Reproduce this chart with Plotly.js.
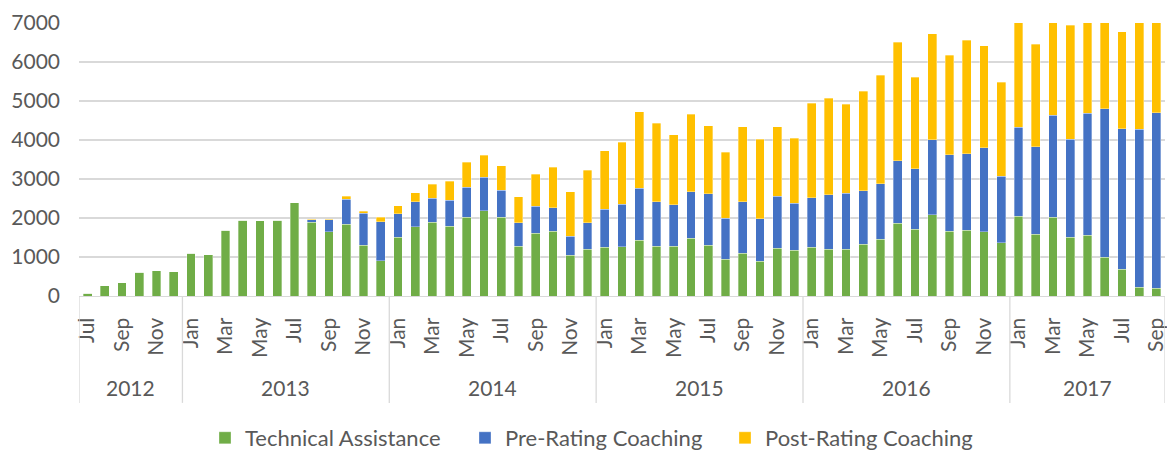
<!DOCTYPE html>
<html>
<head>
<meta charset="utf-8">
<script src="https://cdn.plot.ly/plotly-3.0.1.min.js"></script>
<style>html,body{margin:0;padding:0;background:#fff;}#chart{width:1167px;height:451px;}</style>
</head>
<body>
<div id="chart"></div>
<script>
// Years and the months shown for each year
const years = ['2012', '2013', '2014', '2015', '2016', '2017'];
const monthsByYear = [
  ['Jul','Aug','Sep','Oct','Nov','Dec'],
  ['Jan','Feb','Mar','Apr','May','Jun','Jul','Aug','Sep','Oct','Nov','Dec'],
  ['Jan','Feb','Mar','Apr','May','Jun','Jul','Aug','Sep','Oct','Nov','Dec'],
  ['Jan','Feb','Mar','Apr','May','Jun','Jul','Aug','Sep','Oct','Nov','Dec'],
  ['Jan','Feb','Mar','Apr','May','Jun','Jul','Aug','Sep','Oct','Nov','Dec'],
  ['Jan','Feb','Mar','Apr','May','Jun','Jul','Aug','Sep']
];

// Series values (Jul 2012 .. Sep 2017)
const technicalAssistance = [
  70, 265, 345, 615, 650, 625,
  1100, 1060, 1680, 1940, 1930, 1940, 2385, 1890, 1650, 1845, 1300, 905,
  1510, 1770, 1885, 1795, 2025, 2185, 2025, 1280, 1615, 1665, 1050, 1205,
  1255, 1265, 1435, 1280, 1280, 1475, 1305, 940, 1100, 890, 1220, 1175,
  1255, 1195, 1205, 1325, 1460, 1870, 1715, 2085, 1665, 1680, 1650, 1365,
  2040, 1580, 2015, 1505, 1555, 990, 690, 230, 205
];
const preRatingCoaching = [
  0, 0, 0, 0, 0, 0,
  0, 0, 0, 0, 0, 0, 0, 60, 300, 640, 825, 1000,
  600, 645, 625, 665, 765, 865, 690, 600, 690, 600, 480, 675,
  975, 1085, 1330, 1135, 1060, 1200, 1315, 1050, 1315, 1085, 1335, 1205,
  1265, 1400, 1425, 1380, 1420, 1595, 1545, 1920, 1955, 1965, 2150, 1700,
  2290, 2245, 2620, 2515, 3135, 3810, 3605, 4040, 4490
];
const postRatingCoaching = [
  0, 0, 0, 0, 0, 0,
  0, 0, 0, 0, 0, 0, 0, 15, 15, 70, 45, 120,
  205, 230, 360, 485, 645, 560, 625, 665, 820, 1040, 1145, 1340,
  1500, 1595, 1965, 2010, 1795, 1980, 1750, 1700, 1925, 2040, 1785, 1660,
  2425, 2480, 2290, 2545, 2775, 3040, 2350, 2725, 2555, 2915, 2615, 2415,
  3070, 2630, 2865, 2925, 2610, 2500, 2485, 3130, 2905
];

// Build categories from the arrays above
const categories = [];
const monthOfCat = [];
const yearStart = [];
years.forEach((y, yi) => {
  yearStart.push(categories.length);
  monthsByYear[yi].forEach(m => { categories.push(m + ' ' + y); monthOfCat.push(m); });
});
yearStart.push(categories.length);

const tickVals = categories.filter((c, i) => i % 2 === 0);
const tickText = monthOfCat.filter((c, i) => i % 2 === 0);

const textColor = '#595959';
const fontFam = 'Lato, "Open Sans", sans-serif';
const lineStyle = {width: 0.6, color: 'rgba(255,255,255,0.55)'};

const traces = [
  {type: 'bar', name: 'Technical Assistance', x: categories, y: technicalAssistance,
   marker: {color: '#70ad47', line: lineStyle}},
  {type: 'bar', name: 'Pre-Rating Coaching', x: categories, y: preRatingCoaching,
   marker: {color: '#4472c4', line: lineStyle}},
  {type: 'bar', name: 'Post-Rating Coaching', x: categories, y: postRatingCoaching,
   marker: {color: '#ffc000', line: lineStyle}}
];

const plotH = 451 - 22.7 - 155;
const shapes = yearStart.map(i => ({
  type: 'line', xref: 'x', yref: 'paper', x0: i - 0.5, x1: i - 0.5,
  y0: 0, y1: -(403 - 296) / plotH, line: {color: '#d9d9d9', width: 1.3}
}));
const annotations = years.map((y, yi) => ({
  xref: 'x', yref: 'paper', x: (yearStart[yi] + yearStart[yi + 1] - 1) / 2,
  y: -(388 - 296) / plotH, yanchor: 'middle', xanchor: 'center', showarrow: false,
  text: y, font: {family: fontFam, size: 21, color: textColor}
}));

const layout = {
  width: 1167, height: 451,
  margin: {l: 79.3, r: 2, t: 22.7, b: 155},
  paper_bgcolor: '#ffffff', plot_bgcolor: '#ffffff',
  barmode: 'stack', bargap: 0.49,
  font: {family: fontFam, color: textColor, size: 21},
  showlegend: true,
  legend: {orientation: 'h', xref: 'container', x: 205 / 1167, xanchor: 'left',
           yref: 'container', y: (451 - 438) / 451, yanchor: 'middle',
           entrywidth: 215, entrywidthmode: 'pixels',
           font: {family: fontFam, size: 22, color: textColor},
           traceorder: 'normal', itemclick: false},
  xaxis: {type: 'category', categoryorder: 'array', categoryarray: categories,
          tickmode: 'array', tickvals: tickVals, ticktext: tickText,
          tickangle: -90, ticks: '', ticklabelstandoff: 12,
          tickfont: {family: fontFam, size: 21, color: textColor},
          showline: true, linecolor: '#d9d9d9', linewidth: 1.3,
          showgrid: false, zeroline: false, range: [-0.5, categories.length - 0.5]},
  yaxis: {range: [0, 7000], dtick: 1000, tick0: 0, showgrid: true,
          gridcolor: '#d9d9d9', gridwidth: 1.3, zeroline: false, showline: false,
          ticks: '', ticklabelstandoff: 18,
          tickfont: {family: fontFam, size: 21, color: textColor}},
  shapes: shapes,
  annotations: annotations
};

Plotly.newPlot('chart', traces, layout, {displayModeBar: false, staticPlot: true});
</script>
</body>
</html>
